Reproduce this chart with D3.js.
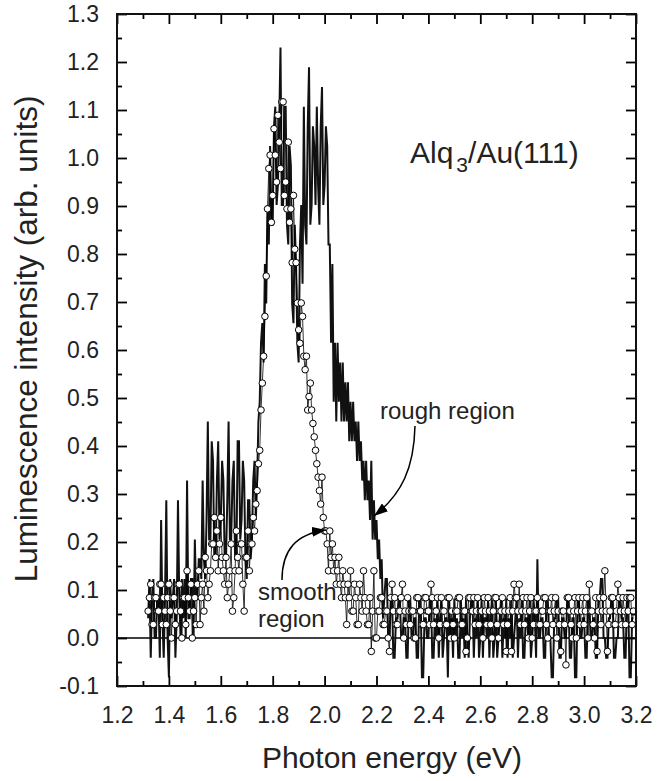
<!DOCTYPE html>
<html>
<head>
<meta charset="utf-8">
<script src="https://cdn.jsdelivr.net/npm/d3@7"></script>
<style>
  html, body { margin: 0; padding: 0; background: #fff; }
  svg { display: block; font-family: "Liberation Sans", Arial, Helvetica, sans-serif; }
</style>
</head>
<body>
<svg id="chart" width="659" height="781"></svg>
<script>
// Luminescence spectra of Alq3 on Au(111): smooth vs rough region

// Photon energy grid (eV)
const energy = [
  1.32, 1.325, 1.33, 1.335, 1.34, 1.345, 1.35, 1.355, 1.36, 1.365,
  1.37, 1.375, 1.38, 1.385, 1.39, 1.395, 1.40, 1.405, 1.41, 1.415,
  1.42, 1.425, 1.43, 1.435, 1.44, 1.445, 1.45, 1.455, 1.46, 1.465,
  1.47, 1.475, 1.48, 1.485, 1.49, 1.495, 1.50, 1.505, 1.51, 1.515,
  1.52, 1.525, 1.53, 1.535, 1.54, 1.545, 1.55, 1.555, 1.56, 1.565,
  1.57, 1.575, 1.58, 1.585, 1.59, 1.595, 1.60, 1.605, 1.61, 1.615,
  1.62, 1.625, 1.63, 1.635, 1.64, 1.645, 1.65, 1.655, 1.66, 1.665,
  1.67, 1.675, 1.68, 1.685, 1.69, 1.695, 1.70, 1.705, 1.71, 1.715,
  1.72, 1.725, 1.73, 1.735, 1.74, 1.745, 1.75, 1.755, 1.76, 1.765,
  1.77, 1.775, 1.78, 1.785, 1.79, 1.795, 1.80, 1.805, 1.81, 1.815,
  1.82, 1.825, 1.83, 1.835, 1.84, 1.845, 1.85, 1.855, 1.86, 1.865,
  1.87, 1.875, 1.88, 1.885, 1.89, 1.895, 1.90, 1.905, 1.91, 1.915,
  1.92, 1.925, 1.93, 1.935, 1.94, 1.945, 1.95, 1.955, 1.96, 1.965,
  1.97, 1.975, 1.98, 1.985, 1.99, 1.995, 2.00, 2.005, 2.01, 2.015,
  2.02, 2.025, 2.03, 2.035, 2.04, 2.045, 2.05, 2.055, 2.06, 2.065,
  2.07, 2.075, 2.08, 2.085, 2.09, 2.095, 2.10, 2.105, 2.11, 2.115,
  2.12, 2.125, 2.13, 2.135, 2.14, 2.145, 2.15, 2.155, 2.16, 2.165,
  2.17, 2.175, 2.18, 2.185, 2.19, 2.195, 2.20, 2.205, 2.21, 2.215,
  2.22, 2.225, 2.23, 2.235, 2.24, 2.245, 2.25, 2.255, 2.26, 2.265,
  2.27, 2.275, 2.28, 2.285, 2.29, 2.295, 2.30, 2.305, 2.31, 2.315,
  2.32, 2.325, 2.33, 2.335, 2.34, 2.345, 2.35, 2.355, 2.36, 2.365,
  2.37, 2.375, 2.38, 2.385, 2.39, 2.395, 2.40, 2.405, 2.41, 2.415,
  2.42, 2.425, 2.43, 2.435, 2.44, 2.445, 2.45, 2.455, 2.46, 2.465,
  2.47, 2.475, 2.48, 2.485, 2.49, 2.495, 2.50, 2.505, 2.51, 2.515,
  2.52, 2.525, 2.53, 2.535, 2.54, 2.545, 2.55, 2.555, 2.56, 2.565,
  2.57, 2.575, 2.58, 2.585, 2.59, 2.595, 2.60, 2.605, 2.61, 2.615,
  2.62, 2.625, 2.63, 2.635, 2.64, 2.645, 2.65, 2.655, 2.66, 2.665,
  2.67, 2.675, 2.68, 2.685, 2.69, 2.695, 2.70, 2.705, 2.71, 2.715,
  2.72, 2.725, 2.73, 2.735, 2.74, 2.745, 2.75, 2.755, 2.76, 2.765,
  2.77, 2.775, 2.78, 2.785, 2.79, 2.795, 2.80, 2.805, 2.81, 2.815,
  2.82, 2.825, 2.83, 2.835, 2.84, 2.845, 2.85, 2.855, 2.86, 2.865,
  2.87, 2.875, 2.88, 2.885, 2.89, 2.895, 2.90, 2.905, 2.91, 2.915,
  2.92, 2.925, 2.93, 2.935, 2.94, 2.945, 2.95, 2.955, 2.96, 2.965,
  2.97, 2.975, 2.98, 2.985, 2.99, 2.995, 3.00, 3.005, 3.01, 3.015,
  3.02, 3.025, 3.03, 3.035, 3.04, 3.045, 3.05, 3.055, 3.06, 3.065,
  3.07, 3.075, 3.08, 3.085, 3.09, 3.095, 3.10, 3.105, 3.11, 3.115,
  3.12, 3.125, 3.13, 3.135, 3.14, 3.145, 3.15, 3.155, 3.16, 3.165,
  3.17, 3.175, 3.18, 3.185, 3.19
];

// Smooth region (open circles), arb. units
const smooth = [
  0.056, 0.084, 0.112, 0.028, 0.028, 0.084, 0.084, 0.056, 0.056, 0.112,
  0.112, 0.028, 0.084, 0.056, 0.028, 0.084, 0.112, 0.056, 0, 0.084,
  0.084, 0.028, 0.056, 0.112, 0.112, 0.056, 0, 0.084, 0.084, 0.028,
  0.14, 0.084, 0.056, 0.112, 0, 0.056, 0.084, 0.028, 0.112, 0.14,
  0.028, 0.084, 0.112, 0.056, 0.168, 0.14, 0.084, 0.112, 0.14, 0.196,
  0.196, 0.251, 0.168, 0.223, 0.14, 0.196, 0.251, 0.168, 0.14, 0.112,
  0.168, 0.084, 0.112, 0.14, 0.196, 0.056, 0.084, 0.14, 0.223, 0.168,
  0.14, 0.196, 0.196, 0.112, 0.056, 0.168, 0.168, 0.223, 0.14, 0.196,
  0.196, 0.251, 0.223, 0.279, 0.307, 0.363, 0.391, 0.475, 0.531, 0.587,
  0.67, 0.754, 0.894, 0.978, 1.006, 0.866, 0.922, 1.061, 1.006, 0.95,
  1.089, 1.033, 0.978, 1.117, 1.117, 0.922, 0.95, 0.894, 1.033, 0.866,
  0.894, 0.782, 0.922, 0.81, 0.782, 0.698, 0.642, 0.614, 0.698, 0.67,
  0.587, 0.559, 0.587, 0.475, 0.503, 0.531, 0.475, 0.447, 0.419, 0.391,
  0.363, 0.335, 0.307, 0.279, 0.335, 0.251, 0.223, 0.223, 0.196, 0.14,
  0.223, 0.168, 0.196, 0.14, 0.168, 0.112, 0.14, 0.168, 0.112, 0.084,
  0.14, 0.112, 0.084, 0.028, 0.112, 0.084, 0.14, 0.056, 0.056, 0.112,
  0.084, 0.028, 0.028, 0.112, 0.084, 0.056, 0.14, 0.084, 0.056, 0.028,
  0.028, 0.084, -0.028, 0.056, 0.14, 0, 0, 0.056, 0.056, 0.084,
  0.084, 0.028, 0.028, 0.056, 0.056, 0, -0.028, 0.084, 0.112, 0.056,
  0.084, 0.028, 0.028, 0.056, 0.056, 0.084, 0.112, 0, 0.056, 0.028,
  0.084, 0.056, 0.028, 0.056, 0.056, 0, 0, 0.084, 0.084, 0.056,
  0.056, 0.028, 0.028, 0.084, 0.084, 0.056, 0.056, 0.028, 0.112, 0.084,
  0.028, 0.056, 0.056, 0.084, 0, 0.028, 0.084, 0.056, 0.056, 0.028,
  0.028, 0.084, 0.084, 0, 0.056, 0.028, 0, 0.056, 0.056, 0.084,
  0.084, 0.028, 0.028, 0.056, 0.056, -0.028, 0, 0.084, 0.084, 0.056,
  0.056, 0.084, 0.028, 0.056, 0.084, 0.028, 0.056, 0.056, 0, 0.084,
  0.056, 0.028, 0.084, 0.056, 0.028, 0, 0.056, 0.084, 0.084, 0.028,
  0, 0.056, 0.056, 0.084, 0.028, 0.056, -0.028, 0.028, 0.056, 0.084,
  -0.028, 0.056, 0.112, 0.084, 0.084, 0.056, 0.112, 0.028, 0.056, 0.084,
  0.028, 0.056, 0.084, 0, 0.056, 0.084, 0, 0.028, 0.056, 0.056,
  0.084, 0.028, 0.028, 0.056, 0.056, 0.084, 0.084, 0.028, 0, 0.056,
  0.056, 0.084, 0.028, 0.056, 0.084, 0, 0.056, 0.028, -0.028, 0.056,
  0.056, 0.028, -0.056, 0.084, 0.084, 0.056, 0.028, 0, 0.056, 0.084,
  0, 0.056, 0.084, 0.028, 0.056, 0.084, 0.028, 0.056, 0.084, 0,
  0.112, 0.056, 0.056, 0.028, 0, 0.084, -0.028, 0.056, 0.084, 0.028,
  0.056, 0.084, 0.14, 0.056, -0.028, 0.028, 0.056, 0.084, 0.084, 0.028,
  0.028, 0.056, 0.112, 0.084, 0.056, 0.028, 0.084, 0.056, 0.028, 0.084,
  0.056, 0.084, 0.084, 0.028, 0.056
];

// Rough region (solid line), arb. units
const rough = [
  0.041, 0.123, -0.041, 0.082, 0.123, 0, 0, 0.082, 0.082, -0.041,
  0.246, 0.041, -0.041, 0.082, 0.287, 0, -0.082, 0.123, 0.041, 0.082,
  0.123, -0.041, 0.041, 0.287, 0.082, 0, 0.123, 0.041, 0.123, 0,
  0.328, 0.041, 0.041, 0.123, 0.123, 0, 0.205, 0.082, 0.082, 0.164,
  0.164, 0.123, 0.328, 0.164, 0.123, 0.246, 0.451, 0.205, 0.205, 0.41,
  0.369, 0.164, 0.164, 0.328, 0.41, 0.205, 0.246, 0.369, 0.328, 0.164,
  0.164, 0.287, 0.451, 0.205, 0.205, 0.328, 0.369, 0.164, 0.164, 0.41,
  0.41, 0.205, 0.246, 0.369, 0.328, 0.164, 0.123, 0.287, 0.287, 0.164,
  0.205, 0.328, 0.369, 0.246, 0.328, 0.451, 0.492, 0.615, 0.656, 0.574,
  0.779, 0.697, 0.902, 0.82, 1.025, 0.861, 0.861, 1.066, 1.107, 0.902,
  0.943, 1.066, 1.23, 0.902, 0.902, 1.107, 1.107, 0.861, 0.82, 1.025,
  0.984, 0.697, 0.656, 0.861, 0.779, 0.615, 0.574, 0.82, 0.902, 0.738,
  1.107, 0.861, 0.82, 1.066, 1.189, 0.861, 0.902, 1.066, 1.025, 0.902,
  1.107, 0.943, 0.861, 1.066, 1.148, 0.902, 0.943, 1.066, 1.025, 0.82,
  0.82, 0.615, 0.779, 0.492, 0.615, 0.451, 0.615, 0.492, 0.574, 0.451,
  0.574, 0.451, 0.533, 0.451, 0.533, 0.41, 0.492, 0.41, 0.492, 0.41,
  0.451, 0.369, 0.451, 0.369, 0.41, 0.328, 0.369, 0.287, 0.369, 0.287,
  0.328, 0.246, 0.369, 0.205, 0.287, 0.205, 0.246, 0.164, 0.205, 0.123,
  0.164, 0.041, 0.082, 0.123, 0.123, 0, 0, 0.082, 0.082, -0.041,
  -0.041, 0.041, 0.041, 0.082, 0.082, 0, 0, 0.041, 0.041, -0.041,
  -0.041, 0.082, 0.082, 0, 0, 0.041, 0.041, -0.041, -0.041, 0.082,
  0.082, -0.082, -0.082, 0.041, 0.041, 0, 0, 0.082, 0.082, -0.041,
  -0.041, 0.041, 0, 0.082, -0.041, 0.041, 0.082, -0.041, 0, 0.041,
  0.041, -0.082, 0.082, 0, 0.041, -0.041, 0.082, 0, 0.041, -0.041,
  -0.041, 0.082, 0, 0.041, -0.041, 0.082, 0, -0.041, 0.041, 0.082,
  0.082, -0.041, 0.041, 0, 0.082, -0.041, 0, 0.082, -0.041, 0.041,
  0.041, 0, 0.082, -0.041, 0.041, 0.082, -0.041, 0, 0.082, -0.041,
  0, 0.041, 0.082, -0.041, 0.041, 0, 0.082, -0.041, 0.041, 0,
  0.082, -0.041, 0, 0.041, 0.082, -0.041, 0.041, 0, 0.082, -0.041,
  -0.041, 0.041, 0.041, 0, 0.082, -0.041, 0, 0.082, 0.041, -0.041,
  0.164, 0, 0, 0.041, 0.041, -0.041, -0.041, 0.082, 0.082, 0,
  0, -0.082, -0.082, 0.041, 0.041, 0.082, 0.082, -0.041, -0.041, 0.041,
  0.041, 0, 0, 0.082, 0.082, -0.041, -0.041, 0.041, 0.041, -0.082,
  -0.082, 0.082, 0.082, 0, 0, 0.041, 0.041, -0.041, -0.041, 0.082,
  0.082, 0, 0, 0.041, 0.041, -0.041, -0.041, 0.082, 0.082, 0.123,
  0.123, 0, 0, -0.041, -0.041, 0.041, 0.041, 0.082, 0.082, -0.041,
  -0.041, 0, 0, 0.082, 0.082, 0.041, 0.041, -0.041, -0.041, 0.082,
  0.082, -0.082, -0.082, 0.041, 0.041
];

// Axis ticks
const xTicks = [1.2, 1.4, 1.6, 1.8, 2.0, 2.2, 2.4, 2.6, 2.8, 3.0, 3.2];
const xMinorTicks = [1.3, 1.5, 1.7, 1.9, 2.1, 2.3, 2.5, 2.7, 2.9, 3.1];
const yTicks = [-0.1, 0.0, 0.1, 0.2, 0.3, 0.4, 0.5, 0.6, 0.7, 0.8, 0.9, 1.0, 1.1, 1.2, 1.3];
const yMinorTicks = [-0.05, 0.05, 0.15, 0.25, 0.35, 0.45, 0.55, 0.65, 0.75, 0.85, 0.95, 1.05, 1.15, 1.25];

// Layout
const plot = { left: 117, right: 636, top: 14, bottom: 686 };

const svg = d3.select('#chart');

const x = d3.scaleLinear().domain([1.2, 3.2]).range([plot.left, plot.right]);
const y = d3.scaleLinear().domain([-0.1, 1.3]).range([plot.bottom, plot.top]);

// Arrowhead marker
svg.append('defs').append('marker')
    .attr('id', 'arrow')
    .attr('markerUnits', 'userSpaceOnUse')
    .attr('markerWidth', 16)
    .attr('markerHeight', 10)
    .attr('refX', 14)
    .attr('refY', 5)
    .attr('orient', 'auto')
  .append('path')
    .attr('d', 'M0,0 L14,5 L0,10 Z')
    .attr('fill', '#000');

// Zero baseline
svg.append('line')
    .attr('x1', plot.left).attr('x2', plot.right)
    .attr('y1', y(0)).attr('y2', y(0))
    .attr('stroke', '#000')
    .attr('stroke-width', 1.5);

const pts = energy.map((e, i) => ({ e, s: smooth[i], r: rough[i] }));

// Rough region trace
svg.append('path')
    .datum(pts)
    .attr('fill', 'none')
    .attr('stroke', '#111')
    .attr('stroke-width', 2)
    .attr('d', d3.line().x(d => x(d.e)).y(d => y(d.r)));

// Smooth region trace + symbols
svg.append('path')
    .datum(pts)
    .attr('fill', 'none')
    .attr('stroke', '#000')
    .attr('stroke-width', 0.8)
    .attr('d', d3.line().x(d => x(d.e)).y(d => y(d.s)));

svg.append('g')
  .selectAll('circle')
  .data(pts)
  .enter().append('circle')
    .attr('cx', d => x(d.e))
    .attr('cy', d => y(d.s))
    .attr('r', 3.3)
    .attr('fill', '#fff')
    .attr('stroke', '#000')
    .attr('stroke-width', 1);

// Axes: inward ticks on all four sides
const fmt = d => d.toFixed(1);

function styleAxis(g) {
    g.select('.domain').remove();
    g.selectAll('line').attr('stroke', '#000').attr('stroke-width', 1.8);
    g.selectAll('text').attr('font-size', 23).attr('fill', '#222')
        .attr('font-family', '"Liberation Sans", Arial, Helvetica, sans-serif');
}

svg.append('g')
    .attr('transform', `translate(0,${plot.bottom})`)
    .call(d3.axisBottom(x).tickValues(xTicks).tickFormat(fmt).tickSize(-10).tickPadding(21))
    .call(styleAxis);
svg.append('g')
    .attr('transform', `translate(0,${plot.bottom})`)
    .call(d3.axisBottom(x).tickValues(xMinorTicks).tickFormat('').tickSize(-5))
    .call(styleAxis);
svg.append('g')
    .attr('transform', `translate(0,${plot.top})`)
    .call(d3.axisTop(x).tickValues(xTicks).tickFormat('').tickSize(-10))
    .call(styleAxis);
svg.append('g')
    .attr('transform', `translate(0,${plot.top})`)
    .call(d3.axisTop(x).tickValues(xMinorTicks).tickFormat('').tickSize(-5))
    .call(styleAxis);

svg.append('g')
    .attr('transform', `translate(${plot.left},0)`)
    .call(d3.axisLeft(y).tickValues(yTicks).tickFormat(fmt).tickSize(-10).tickPadding(18))
    .call(styleAxis);
svg.append('g')
    .attr('transform', `translate(${plot.left},0)`)
    .call(d3.axisLeft(y).tickValues(yMinorTicks).tickFormat('').tickSize(-5))
    .call(styleAxis);
svg.append('g')
    .attr('transform', `translate(${plot.right},0)`)
    .call(d3.axisRight(y).tickValues(yTicks).tickFormat('').tickSize(-10))
    .call(styleAxis);
svg.append('g')
    .attr('transform', `translate(${plot.right},0)`)
    .call(d3.axisRight(y).tickValues(yMinorTicks).tickFormat('').tickSize(-5))
    .call(styleAxis);

// Frame
svg.append('rect')
    .attr('x', plot.left).attr('y', plot.top)
    .attr('width', plot.right - plot.left)
    .attr('height', plot.bottom - plot.top)
    .attr('fill', 'none')
    .attr('stroke', '#111')
    .attr('stroke-width', 2);

// Axis titles
svg.append('text')
    .attr('x', 392).attr('y', 768)
    .attr('text-anchor', 'middle')
    .attr('font-size', 30)
    .attr('fill', '#222')
    .text('Photon energy (eV)');

svg.append('text')
    .attr('transform', 'translate(37,339) rotate(-90)')
    .attr('text-anchor', 'middle')
    .attr('font-size', 31.5)
    .attr('fill', '#222')
    .text('Luminescence intensity (arb. units)');

// Sample label
const label = svg.append('text')
    .attr('x', 410).attr('y', 163)
    .attr('font-size', 30)
    .attr('fill', '#222');
label.append('tspan').text('Alq');
label.append('tspan').attr('dx', 3).attr('dy', 9).attr('font-size', 21).text('3');
label.append('tspan').attr('dy', -9).text('/Au(111)');

// Annotations
svg.append('text')
    .attr('x', 380).attr('y', 419)
    .attr('font-size', 24)
    .attr('fill', '#222')
    .text('rough region');

svg.append('text')
    .attr('x', 258).attr('y', 600)
    .attr('font-size', 24)
    .attr('fill', '#222')
    .text('smooth');
svg.append('text')
    .attr('x', 258).attr('y', 627)
    .attr('font-size', 24)
    .attr('fill', '#222')
    .text('region');

svg.append('path')
    .attr('d', 'M415,426 C414,468 402,494 374,516')
    .attr('fill', 'none')
    .attr('stroke', '#000')
    .attr('stroke-width', 1.5)
    .attr('marker-end', 'url(#arrow)');

svg.append('path')
    .attr('d', 'M282,580 C282,550 296,534 326,530')
    .attr('fill', 'none')
    .attr('stroke', '#000')
    .attr('stroke-width', 1.5)
    .attr('marker-end', 'url(#arrow)');
</script>
</body>
</html>
